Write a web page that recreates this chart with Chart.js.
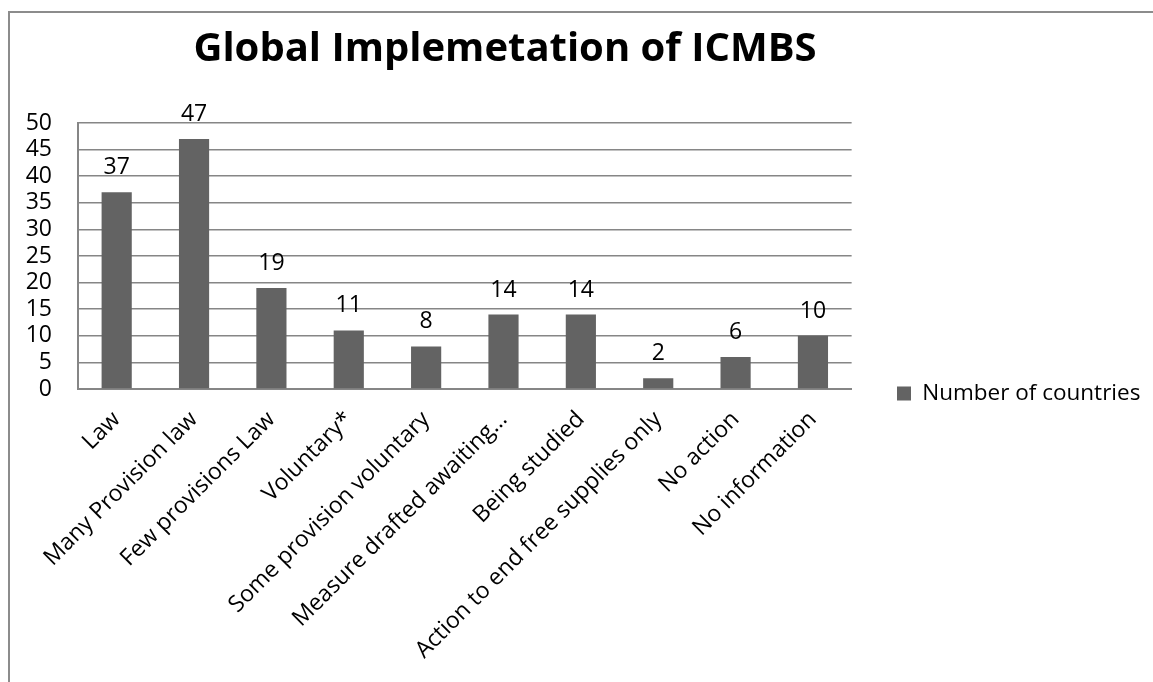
<!DOCTYPE html>
<html>
<head>
<meta charset="utf-8">
<script src="https://cdn.jsdelivr.net/npm/chart.js@4"></script>
<style>
  html, body { margin: 0; padding: 0; background: #fff; }
  #wrap { position: relative; width: 1153px; height: 682px; overflow: hidden; }
  #frame { position: absolute; left: 8px; top: 11px; width: 1200px; height: 700px;
           border-left: 2px solid #8c8c8c; border-top: 2px solid #8c8c8c; }
  canvas { position: absolute; left: 0; top: 0; }
</style>
</head>
<body>
<div id="wrap">
  <div id="frame"></div>
  <canvas id="chart" width="1153" height="682"></canvas>
</div>
<script>
// ========== DATA ==========
const categories = ["Law", "Many Provision law", "Few provisions Law", "Voluntary*",
  "Some provision voluntary", "Measure drafted awaiting…", "Being studied",
  "Action to end free supplies only", "No action", "No information"];
const countries = [37, 47, 19, 11, 8, 14, 14, 2, 6, 10];
const seriesName = "Number of countries";
const chartTitle = "Global Implemetation of ICMBS";

const FONT = "'Open Sans', 'Noto Sans', sans-serif";

// value above each bar
const valueLabels = {
    id: "valueLabels",
    afterDatasetsDraw(chart) {
        const ctx = chart.ctx;
        const meta = chart.getDatasetMeta(0);
        ctx.save();
        ctx.font = "23px " + FONT;
        ctx.fillStyle = "#000";
        ctx.textAlign = "center";
        ctx.textBaseline = "alphabetic";
        meta.data.forEach((bar, i) => {
            ctx.fillText(countries[i], bar.x, bar.y - 18);
        });
        ctx.restore();
    }
};

// title sits a bit left of the canvas centre, like the original
const titleText = {
    id: "titleText",
    afterDraw(chart) {
        const ctx = chart.ctx;
        ctx.save();
        ctx.font = "bold 40px " + FONT;
        ctx.fillStyle = "#000";
        ctx.textAlign = "center";
        ctx.textBaseline = "middle";
        ctx.fillText(chartTitle, 505, 50);
        ctx.restore();
    }
};

// move the legend a little from where the layout puts it
const legendShift = {
    id: "legendShift",
    afterLayout(chart) {
        const lg = chart.legend;
        const dx = 887 - lg.left;
        lg.left += dx; lg.right += dx;
        lg.top -= 9; lg.bottom -= 9;
    }
};

new Chart(document.getElementById("chart"), {
    type: "bar",
    data: {
        labels: categories,
        datasets: [{
            label: seriesName,
            data: countries,
            backgroundColor: "#636363",
            borderWidth: 0,
            barPercentage: 0.39,
            categoryPercentage: 1
        }]
    },
    options: {
        responsive: false,
        animation: false,
        layout: { padding: { left: 0, right: 38, top: 123, bottom: 0 } },
        plugins: {
            legend: {
                position: "right",
                labels: {
                    color: "#000",
                    boxWidth: 14,
                    boxHeight: 14,
                    padding: 10,
                    font: { family: FONT, size: 22.5 }
                }
            },
            tooltip: { enabled: false }
        },
        scales: {
            x: {
                grid: { display: false, drawTicks: false },
                border: { color: "#868686", width: 2 },
                ticks: {
                    color: "#000",
                    font: { family: FONT, size: 23 },
                    maxRotation: 45,
                    minRotation: 45,
                    padding: 17,
                    autoSkip: false
                },
                afterFit(scale) { scale.height = 682 - 389; }
            },
            y: {
                min: 0,
                max: 50,
                grid: { color: "#868686", lineWidth: 1.5, drawTicks: false },
                border: { color: "#868686", width: 2 },
                ticks: {
                    stepSize: 5,
                    autoSkip: false,
                    color: "#000",
                    font: { family: FONT, size: 23 },
                    padding: 26
                },
                afterFit(scale) { scale.width = 78; }
            }
        }
    },
    plugins: [valueLabels, titleText, legendShift]
});
</script>
</body>
</html>
